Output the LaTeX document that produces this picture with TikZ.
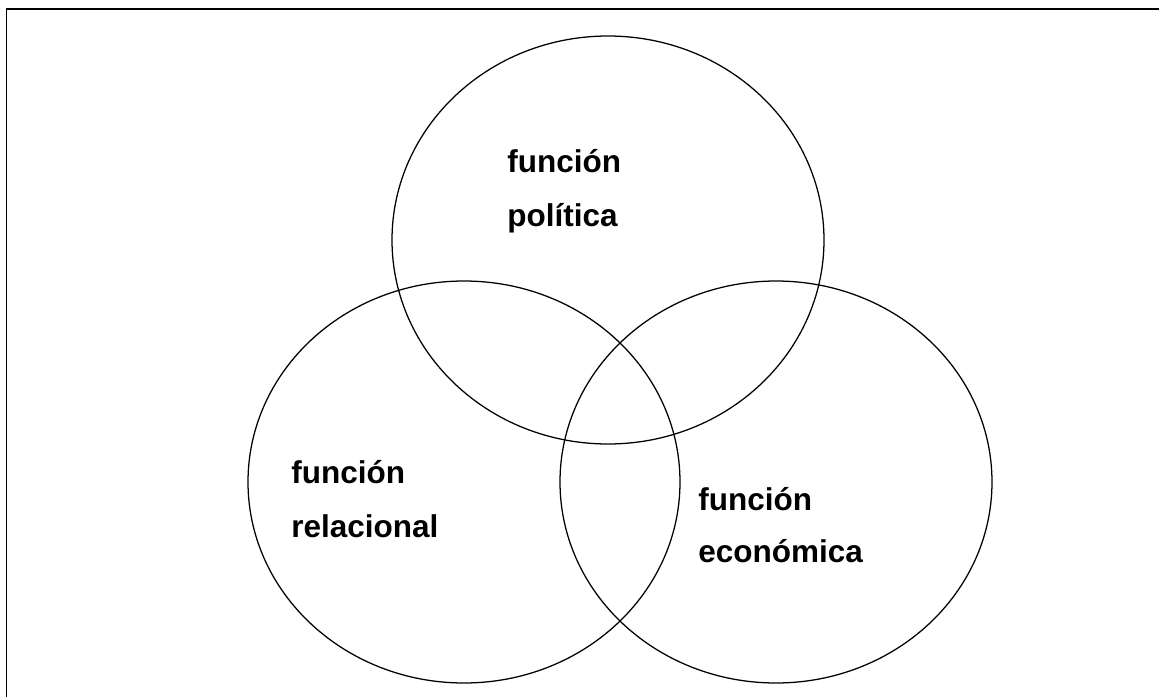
\documentclass[tikz,border=0pt]{standalone}
\usepackage{fontspec}
\setmainfont{Liberation Sans}
\tikzset{
  ring/.style={line width=0.9pt},
  funclabel/.style={anchor=base west, inner sep=0pt, font=\fontsize{22.4}{38}\selectfont\bfseries}
}
\begin{document}
\begin{tikzpicture}[x=0.025cm, y=-0.025cm]
\useasboundingbox (0,0) rectangle (1159,697);
% Frame (only left and top edges show)
\draw[line width=1.3pt] (6.5,720) -- (6.5,9) -- (1180,9);
% Three rings
\draw[ring] (608,240) ellipse [x radius=216, y radius=204];
\draw[ring] (464,482) ellipse [x radius=216, y radius=201];
\draw[ring] (776,482) ellipse [x radius=216, y radius=201];
% Labels
\node[funclabel] (pol-a) at (507,172) {función};
\node[funclabel] (pol-b) at (507,226) {política};
\node[funclabel] (rel-a) at (291,483) {función};
\node[funclabel] (rel-b) at (291,537) {relacional};
\node[funclabel] (eco-a) at (698,510) {función};
\node[funclabel] (eco-b) at (698,562) {económica};
\end{tikzpicture}
\end{document}
